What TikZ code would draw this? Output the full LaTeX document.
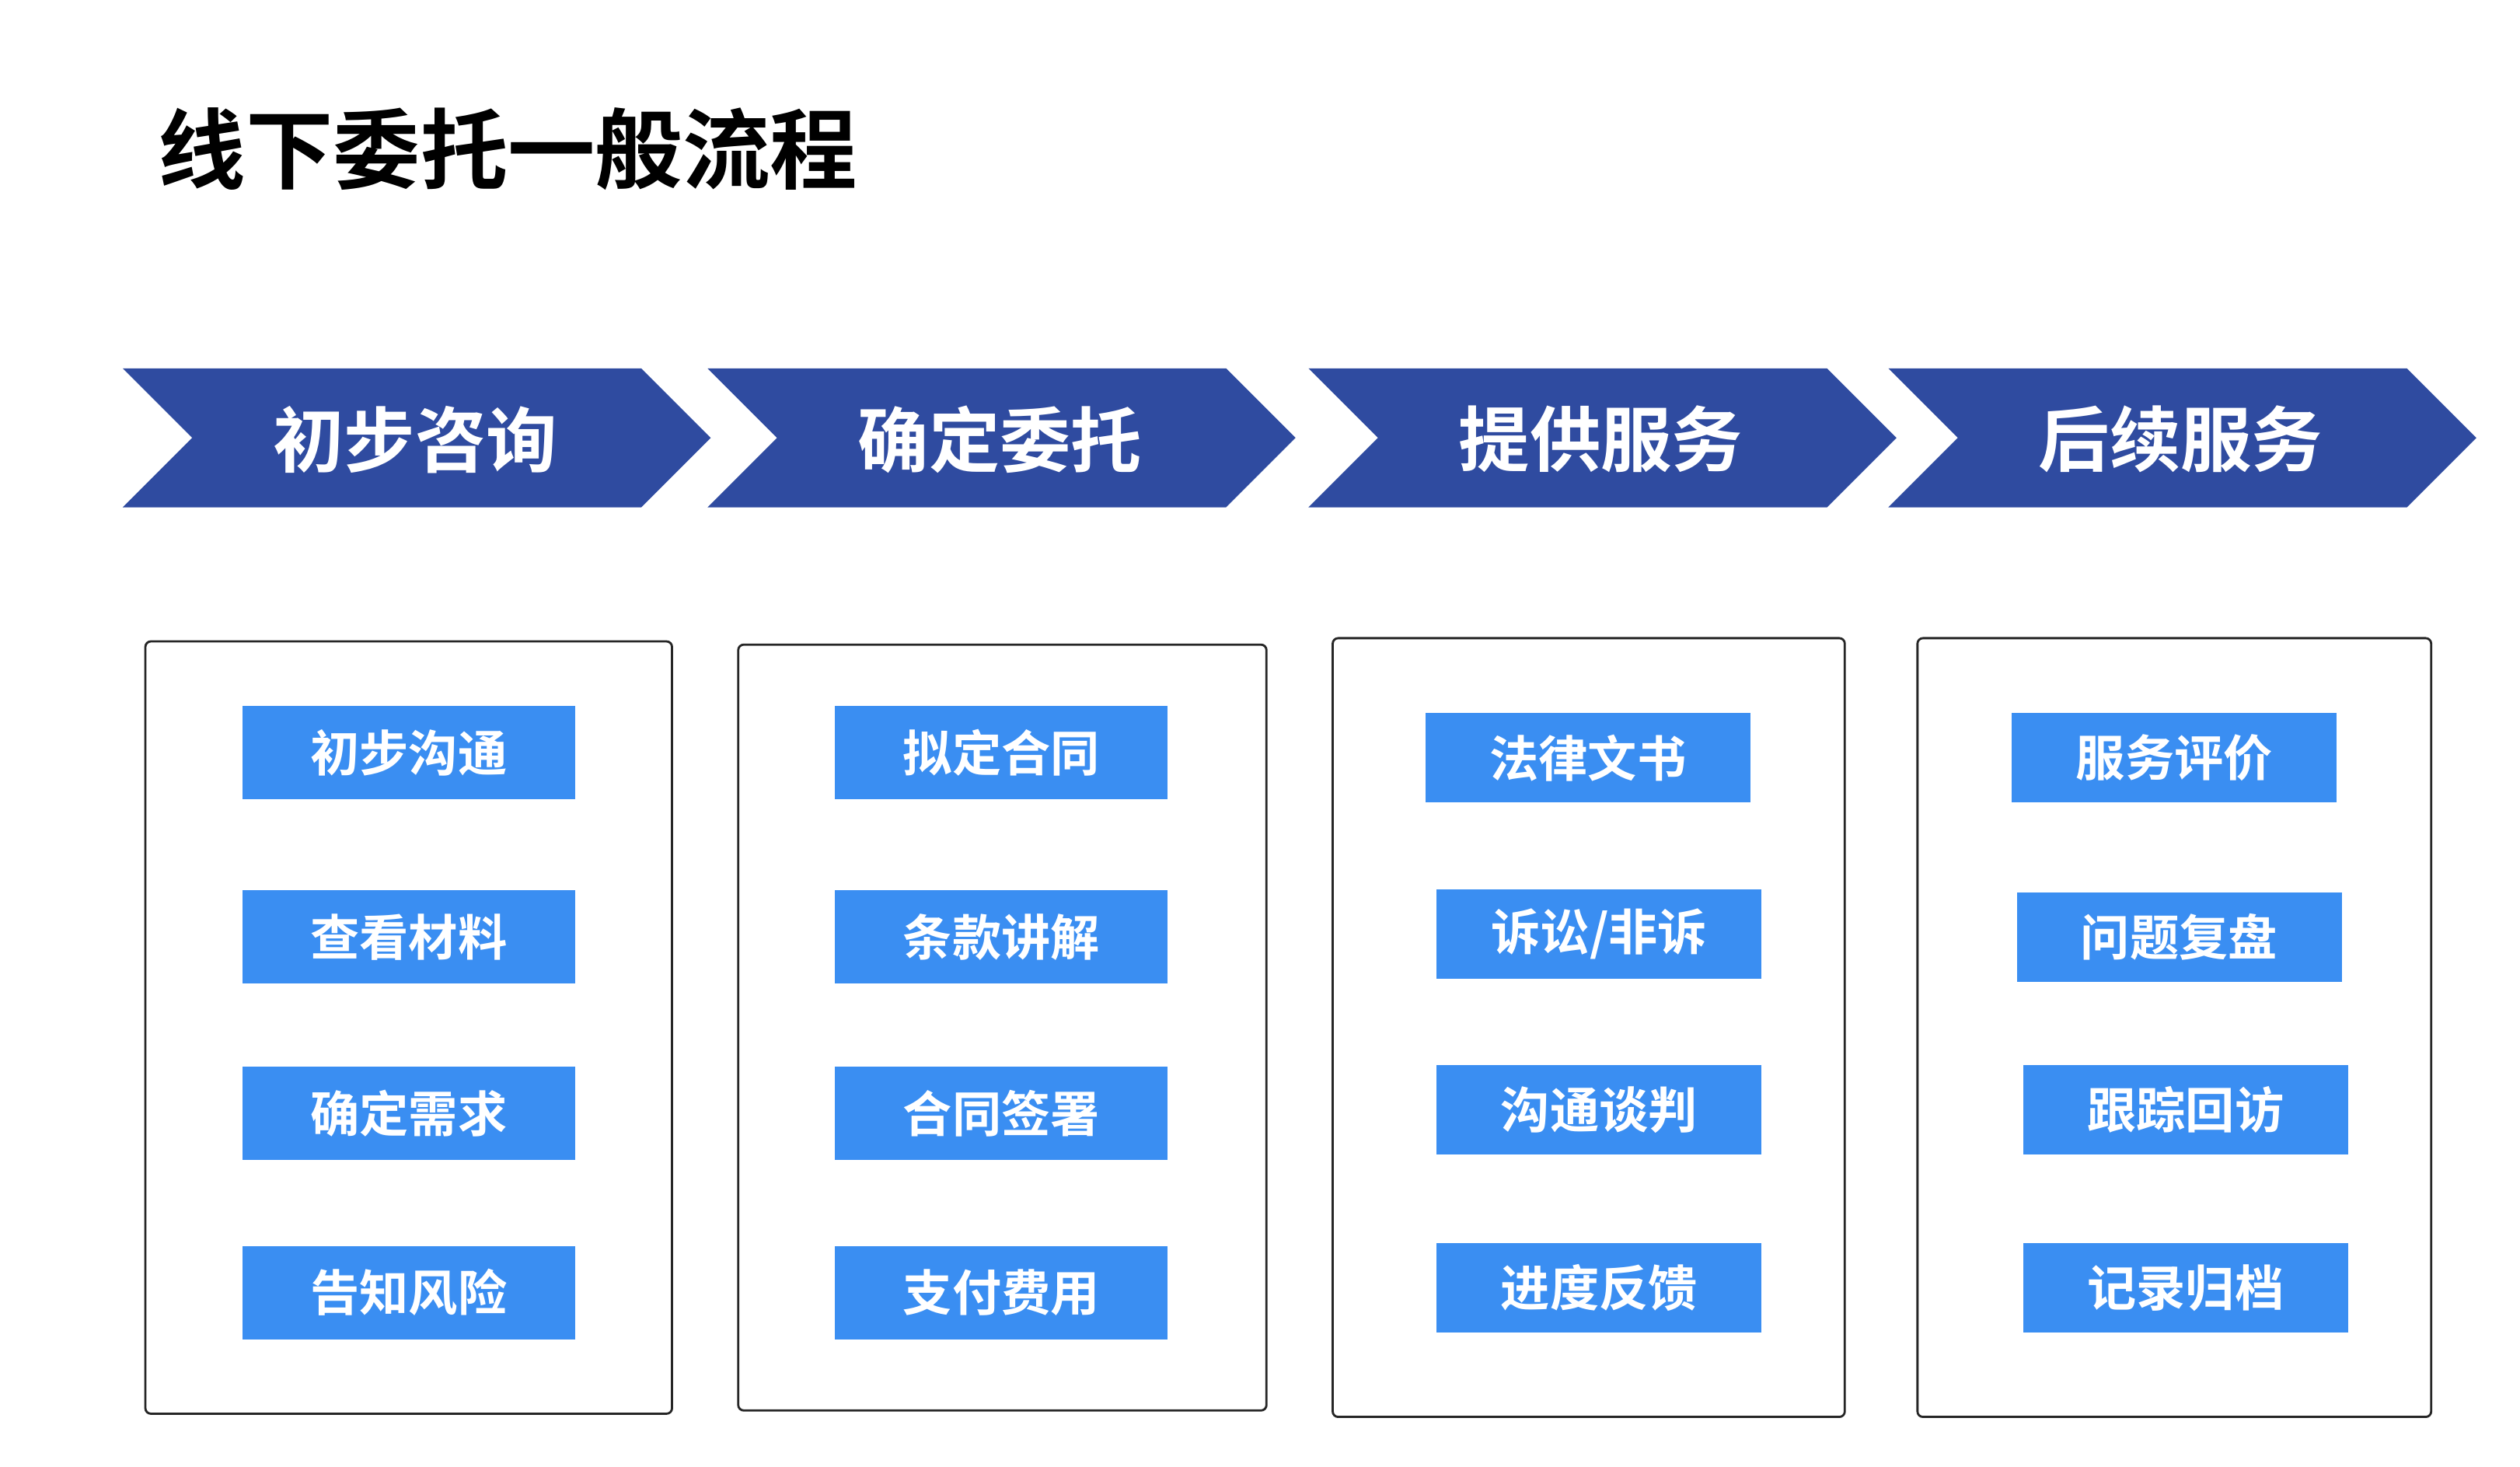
\documentclass[tikz,border=0pt]{standalone}
\usepackage{fontspec}
\newfontfamily\cjk{Noto Sans CJK SC}[BoldFont={Noto Sans CJK SC Bold}]
\definecolor{chevblue}{HTML}{2F4BA0}
\definecolor{btnblue}{HTML}{3A8EF2}
\begin{document}
\begin{tikzpicture}[x=0.02078cm,y=-0.02078cm]

	\tikzset{
		chev/.style={fill=chevblue,draw=none},
		stage/.style={text=white,font=\cjk\bfseries\fontsize{26}{30}\selectfont},
		panel/.style={draw=black!85,line width=0.8pt,rounded corners=2pt},
		stepbox/.style={fill=btnblue,text=white,inner sep=0pt,minimum height=1.2cm,
			font=\cjk\bfseries\fontsize{18}{22}\selectfont}
	}

	\useasboundingbox (0,0) rectangle (1560,908);

	\node[anchor=west,font=\cjk\bfseries\fontsize{32}{38}\selectfont] (title) at (92,92) {线下委托一般流程};

	% stage chevrons
	\foreach \x/\txt/\nm in {76/初步咨询/s1,438/确定委托/s2,810/提供服务/s3,1169/后续服务/s4} {
		\fill[chev] (\x,228) -- ++(321,0) -- ++(43,43) -- ++(-43,43) -- ++(-321,0) -- ++(43,-43) -- cycle;
		\node[stage] (\nm) at (\x+181,272) {\txt};
	}

	% panels
	\draw[panel] (90,397) rectangle (416,875);
	\draw[panel] (457,399) rectangle (784,873);
	\draw[panel] (825,395) rectangle (1142,877);
	\draw[panel] (1187,395) rectangle (1505,877);

	% steps
	\foreach \y/\txt/\nm in {466/初步沟通/a1,580/查看材料/a2,689/确定需求/a3,800/告知风险/a4}
		\node[stepbox,minimum width=4.28cm] (\nm) at (253,\y) {\txt};
	\foreach \y/\txt/\nm in {466/拟定合同/b1,580/条款讲解/b2,689/合同签署/b3,800/支付费用/b4}
		\node[stepbox,minimum width=4.28cm] (\nm) at (620,\y) {\txt};
	\foreach \x/\y/\txt/\nm in {983/469/法律文书/c1,990/578/{诉讼/非诉}/c2,990/687/沟通谈判/c3,990/797/进度反馈/c4}
		\node[stepbox,minimum width=4.18cm,minimum height=1.15cm] (\nm) at (\x,\y) {\txt};
	\foreach \x/\y/\txt/\nm in {1346/469/服务评价/d1,1349/580/问题复盘/d2,1353/687/跟踪回访/d3,1353/797/记录归档/d4}
		\node[stepbox,minimum width=4.18cm,minimum height=1.15cm] (\nm) at (\x,\y) {\txt};

\end{tikzpicture}
\end{document}
